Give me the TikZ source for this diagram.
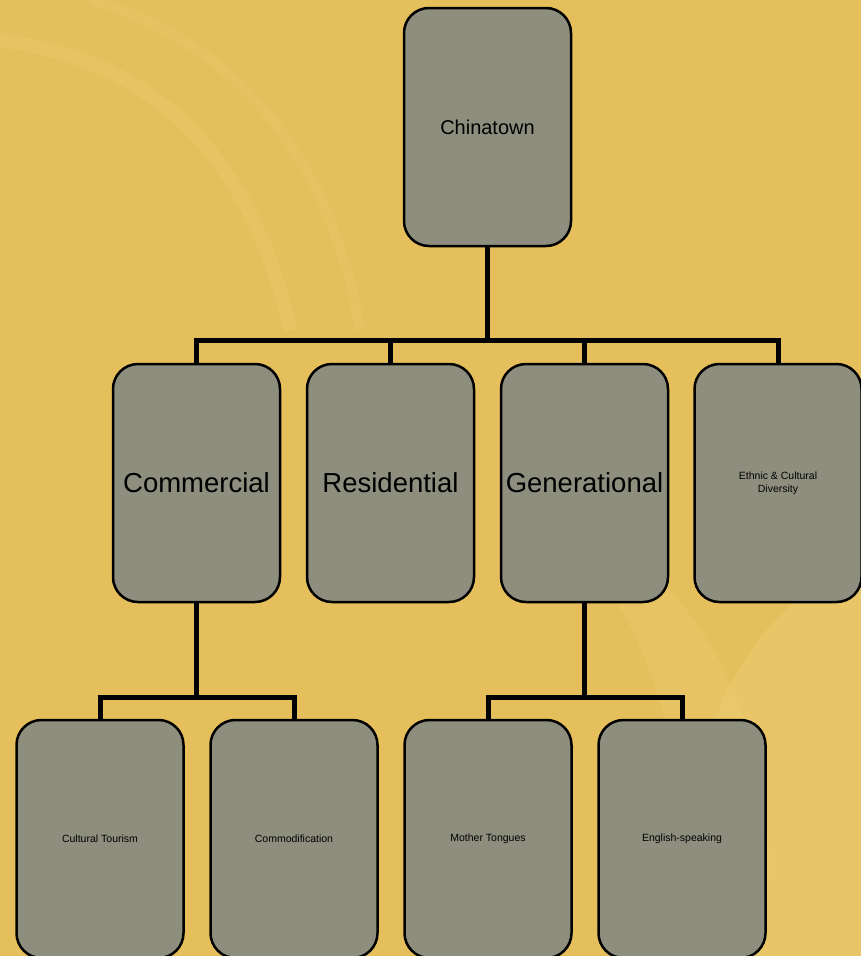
\documentclass[tikz,border=0pt]{standalone}
\usepackage{fontspec}
\setmainfont{Liberation Sans}
\usetikzlibrary{positioning, calc}

\definecolor{bggold}{HTML}{E6BF5D}
\definecolor{bglight}{HTML}{EED27C}
\definecolor{boxgray}{HTML}{8E8E7F}

\tikzset{
  unit/.style={draw=black, line width=2.5pt, fill=boxgray, rounded corners=25pt,
    minimum width=167pt, minimum height=238pt, inner sep=0pt, align=center},
  bigtext/.style={font=\fontsize{27.5}{30}\selectfont},
  midtext/.style={font=\fontsize{20}{22}\selectfont},
  smalltext/.style={font=\fontsize{10.5}{13.3}\selectfont},
  conn/.style={line width=5pt, line cap=rect}
}

\begin{document}
\begin{tikzpicture}[x=1pt, y=-1pt]
      \useasboundingbox (0, 0) rectangle (861, 956);
      % background
      \fill[bggold] (0, 0) rectangle (861, 956);
      \fill[bglight, opacity=0.35] (861, 560) .. controls (720, 620) and (660, 800) .. (710, 956) -- (861, 956) -- cycle;
      \fill[bglight, opacity=0.25] (600, 580) .. controls (680, 680) and (700, 860) .. (640, 956) -- (760, 956) .. controls (790, 800) and (740, 660) .. (660, 580) -- cycle;
      \draw[bglight, opacity=0.25, line width=14pt] (0, 40) .. controls (150, 60) and (250, 150) .. (290, 330);
      \draw[bglight, opacity=0.2, line width=10pt] (90, 0) .. controls (230, 40) and (330, 150) .. (360, 330);

      \node[unit, midtext] (town) at (487.5, 127) {Chinatown};

      \node[unit, bigtext] (com) at (196.5, 483) {Commercial};
      \node[unit, bigtext] (res) at (390.5, 483) {Residential};
      \node[unit, bigtext] (gen) at (584.5, 483) {Generational};
      \node[unit, smalltext] (eth) at (778, 483) {Ethnic \& Cultural\\Diversity};

      \node[unit, smalltext] (tour) at (100, 839) {Cultural Tourism};
      \node[unit, smalltext] (cmod) at (294, 839) {Commodification};
      \node[unit, smalltext] (tong) at (488, 839) {Mother Tongues};
      \node[unit, smalltext] (engl) at (682, 839) {English-speaking};

      \coordinate (bus1) at (0, 340);
      \coordinate (bus2) at (0, 697);

      \draw[conn] (town.south) -- (town.south |- bus1);
      \draw[conn] (com.north) -- (com.north |- bus1) -- (eth.north |- bus1) -- (eth.north);
      \draw[conn] (res.north) -- (res.north |- bus1);
      \draw[conn] (gen.north) -- (gen.north |- bus1);

      \draw[conn] (com.south) -- (com.south |- bus2);
      \draw[conn] (tour.north) -- (tour.north |- bus2) -- (cmod.north |- bus2) -- (cmod.north);

      \draw[conn] (gen.south) -- (gen.south |- bus2);
      \draw[conn] (tong.north) -- (tong.north |- bus2) -- (engl.north |- bus2) -- (engl.north);

    \end{tikzpicture}
\end{document}
